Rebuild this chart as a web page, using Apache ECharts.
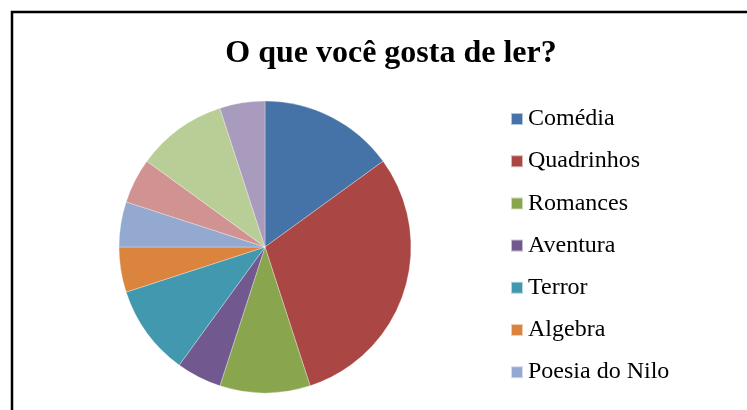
<!DOCTYPE html>
<html>
<head>
<meta charset="utf-8">
<script src="https://cdn.jsdelivr.net/npm/echarts@6/dist/echarts.min.js"></script>
<style>
html,body{margin:0;padding:0;background:#fff;overflow:hidden;width:747px;height:410px;}
#c{width:747px;height:560px;}
</style>
</head>
<body>
<div id="c"></div>
<script>
var titleText = 'O que você gosta de ler?';
var categories = ['Comédia','Quadrinhos','Romances','Aventura','Terror','Algebra','Poesia do Nilo','Suspense','Ficção','Biografia'];
var values = [3, 6, 2, 1, 2, 1, 1, 1, 2, 1];
var legendShown = categories.slice(0, 7);
var colors = ['#4572A7','#AA4643','#89A54E','#71588F','#4198AF','#DB843D','#93A9CF','#D19392','#B9CD96','#A99BBD'];

var chart = echarts.init(document.getElementById('c'), null, {renderer:'canvas'});
chart.setOption({
  backgroundColor:'#fff',
  animation:false,
  color: colors,
  title:{
    text:titleText,
    left:386, top:33, textAlign:'center',
    textStyle:{fontFamily:'Liberation Serif', fontWeight:'bold', fontSize:32, color:'#000'}
  },
  graphic:[{
    type:'rect', shape:{x:12, y:12, width:900, height:900},
    style:{fill:'none', stroke:'#000', lineWidth:2.5}, silent:true
  }],
  legend:{
    orient:'vertical', left:510, top:107, padding:0,
    icon:'rect', itemWidth:12, itemHeight:12, itemGap:18.2,
    textStyle:{fontFamily:'Liberation Serif', fontSize:24, lineHeight:24, color:'#000'},
    data: legendShown
  },
  series:[{
    type:'pie', center:[265,247], radius:[0,146], startAngle:90, clockwise:true,
    label:{show:false}, labelLine:{show:false},
    itemStyle:{borderColor:'rgba(255,255,255,0.6)', borderWidth:0.5},
    emphasis:{disabled:true},
    data: categories.map(function(n,i){return {name:n, value:values[i]};})
  }]
});
</script>
</body>
</html>
